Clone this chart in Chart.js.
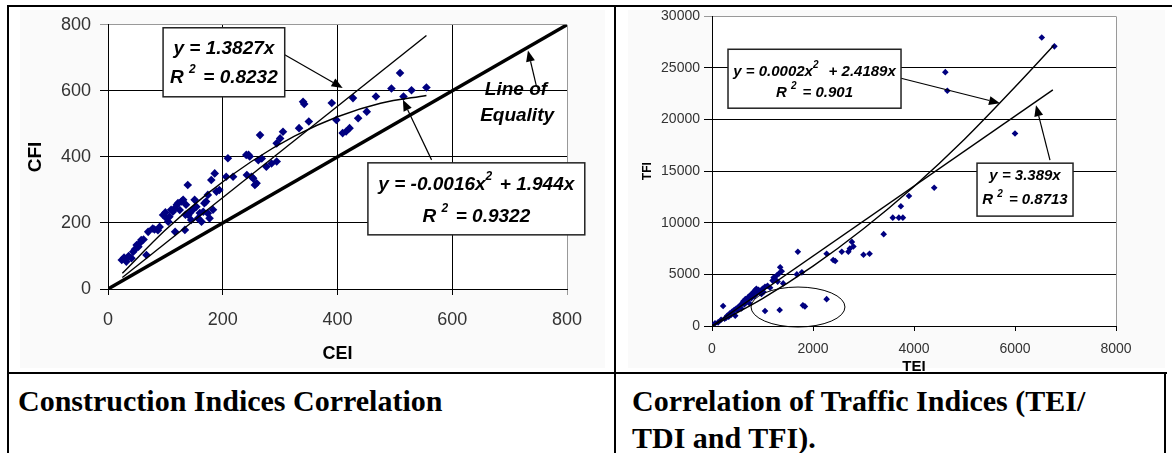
<!DOCTYPE html>
<html><head><meta charset="utf-8">
<script src="https://cdn.jsdelivr.net/npm/chart.js@4.4.0/dist/chart.umd.min.js"></script>
<style>
html,body{margin:0;padding:0;background:#fff;width:1172px;height:453px;overflow:hidden;position:relative;font-family:"Liberation Sans",Arial,sans-serif}
.ln{position:absolute;background:#000}
.cap{position:absolute;font:bold 30px/37px "Liberation Serif","Times New Roman",serif;color:#000;white-space:nowrap}
canvas{position:absolute}
.bg{position:absolute;background:#fafafa}
</style></head><body>
<div class="bg" style="left:20px;top:10px;width:585px;height:358px"></div>
<div class="bg" style="left:628px;top:10px;width:537px;height:358px"></div>
<canvas id="c1" width="600" height="367" style="left:10px;top:5px"></canvas>
<canvas id="c2" width="552" height="376" style="left:618px;top:4px"></canvas>
<div class="ln" style="left:7px;top:5px;width:1165px;height:2px"></div>
<div class="ln" style="left:7px;top:5px;width:2px;height:448px"></div>
<div class="ln" style="left:614px;top:5px;width:2px;height:448px"></div>
<div class="ln" style="left:7px;top:372px;width:1160px;height:2px"></div>
<div class="ln" style="left:1164px;top:372px;width:2px;height:81px"></div>
<div class="cap" style="left:18px;top:382px">Construction Indices Correlation</div>
<div class="cap" style="left:632px;top:382px">Correlation of Traffic Indices (TEI/<br>TDI and TFI).</div>
<script>
// ---------- data: construction indices ----------
const cei = [24,28,32,36,41,44,47,50,53,56,58,62,67,70,78,81,87,90,96,100,102,105,107,110,113,116,117,120,122,125,128,131,134,135,136,139,140,142,145,148,151,154,157,160,163,166,168,171,174,174,177,180,183,186,189,194,206,209,218,241,242,245,247,250,253,256,259,262,265,268,276,285,294,294,300,305,333,340,342,350,390,398,409,415,421,427,436,451,467,494,509,515,529,555];
const cfi = [88,95,83,100,93,113,120,133,128,140,148,150,103,173,183,180,178,188,224,232,214,204,219,240,234,244,173,255,260,239,265,270,179,225,255,315,224,229,209,240,270,249,214,230,204,234,260,265,229,285,214,330,240,350,295,300,340,396,340,406,345,406,401,340,335,315,320,390,466,395,370,380,441,386,456,476,487,567,560,507,563,512,472,477,487,578,517,537,583,607,654,583,602,610];
const linFitX1 = [25,555];
const linFitY1 = [34.6,767.4];
const polyFitX1 = [25,100,175,250,325,400,475,555];
const polyFitY1 = [47.6,178.4,291.2,386,462.8,521.6,562.4,586.1];
const equalityX = [0,800];
const equalityY = [0,800];
const xTicks1 = [0,200,400,600,800];
const yTicks1 = [0,200,400,600,800];

// ---------- data: traffic indices ----------
const tei = [60,120,180,220,250,280,300,330,350,380,400,420,440,460,480,500,520,540,560,580,600,620,640,660,680,700,720,740,760,780,800,820,840,860,880,900,920,950,980,1000,1020,1050,1100,1150,1200,1220,1250,1280,1300,1330,1350,1380,1410,1050,1340,1800,1840,2270,1700,1680,1780,2270,2400,2440,2570,2700,2730,2770,2800,3000,3120,3400,3580,3700,3780,3740,3900,4400,4620,4660,6000,6530,6780];
const tfi = [260,350,600,1940,700,800,1000,900,1200,1100,1400,1230,1550,1000,1700,1550,1800,1900,2000,1700,2200,2400,2100,2600,2300,2500,2800,2200,3000,2700,3100,3300,2900,3500,3600,3200,3500,3400,3100,3600,3300,3800,3900,3700,4400,4700,4500,4900,4300,5100,5700,5300,4130,1450,1550,2000,1900,2600,7200,5000,5200,7000,6400,6300,7200,7200,7500,8150,7700,6900,7000,8900,10500,10500,10500,11600,12600,13400,24600,22800,18650,27950,27100];
const linFitX2 = [0,6750];
const linFitY2 = [0,22876];
const polyFitX2 = [0,1000,2000,3000,4000,5000,6000,6770];
const polyFitY2 = [0,2659,5798,9417,13516,18095,23153,27200];
const xTicks2 = [0,2000,4000,6000,8000];
const yTicks2 = [0,5000,10000,15000,20000,25000,30000];

// ---------- annotation layout (data coordinates) ----------
const annot1 = {
  font: 19,
  arrows: [
    {from:[308,709], to:[409,609]},
    {from:[564,391], to:[514,573]},
    {from:[747,612], to:[732,722]}
  ],
  boxes: [
    {x:[96,308], y:[582,791], lines:[{dy:-13.5, segs:['y = 1.3827x']},{dy:15.5, segs:['R ',['2'],' = 0.8232']}]},
    {x:[453,831], y:[164,382], lines:[{dy:-14, segs:['y = -0.0016x',['2'],' + 1.944x']},{dy:18, segs:['R ',['2'],' = 0.9322']}]}
  ],
  texts: [
    {at:[711,603], segs:['Line of']},
    {at:[713,524], segs:['Equality']}
  ],
  ellipses: []
};
const annot2 = {
  font: 15,
  arrows: [
    {from:[3743,24008], to:[5703,21588]},
    {from:[6693,16070], to:[6416,21394]}
  ],
  boxes: [
    {x:[317,3743], y:[21104,26815], lines:[{dy:-7, segs:['y = 0.0002x',['2'],'  + 2.4189x']},{dy:14, segs:['R ',['2'],' = 0.901']}]},
    {x:[5248,7149], y:[10648,15779], lines:[{dy:-13.5, segs:['y = 3.389x']},{dy:10.5, segs:['R ',['2'],' = 0.8713']}]}
  ],
  texts: [],
  ellipses: [{c:[1703,1840], r:[930,1936]}]
};

Chart.defaults.font.family = '"Liberation Sans", Arial, sans-serif';
const FF = '"Liberation Sans", Arial, sans-serif';

function drawRich(ctx, segs, cx, cy, size){
  const f = s => `italic bold ${s}px ${FF}`;
  let w = 0;
  const parts = segs.map(s => {
    const sup = Array.isArray(s);
    const t = sup ? s[0] : s;
    const sz = sup ? Math.round(size*0.65) : size;
    ctx.font = f(sz);
    const m = ctx.measureText(t).width + (sup ? size*0.12 : 0);
    w += m;
    return {t, sz, m, sup};
  });
  let x = cx - w/2;
  ctx.textBaseline = 'middle'; ctx.textAlign = 'left'; ctx.fillStyle = '#000';
  parts.forEach(p => {
    ctx.font = f(p.sz);
    ctx.fillText(p.t, x, p.sup ? cy - size*0.42 : cy);
    x += p.m;
  });
}
function drawArrow(ctx, x1, y1, x2, y2){
  const a = Math.atan2(y2-y1, x2-x1), L = 11, W = 4.5;
  const bx = x2 - L*Math.cos(a), by = y2 - L*Math.sin(a);
  ctx.strokeStyle = '#000'; ctx.lineWidth = 1.2;
  ctx.beginPath(); ctx.moveTo(x1,y1); ctx.lineTo(bx,by); ctx.stroke();
  ctx.fillStyle = '#000';
  ctx.beginPath(); ctx.moveTo(x2,y2);
  ctx.lineTo(bx + W*Math.sin(a), by - W*Math.cos(a));
  ctx.lineTo(bx - W*Math.sin(a), by + W*Math.cos(a));
  ctx.closePath(); ctx.fill();
}
function makePlugin(cfg, drawRightFrame){
  return {
    id: 'annot',
    beforeDraw(chart){
      const {ctx, chartArea:a} = chart;
      ctx.save(); ctx.fillStyle = '#fff';
      ctx.fillRect(a.left, a.top, a.right-a.left, a.bottom-a.top);
      ctx.restore();
    },
    beforeDatasetsDraw(chart){
      if (!drawRightFrame) return;
      const {ctx, chartArea:a} = chart;
      ctx.save(); ctx.strokeStyle = '#999'; ctx.lineWidth = 1;
      const x = Math.round(a.right) + 0.5;
      ctx.beginPath(); ctx.moveTo(x, a.top); ctx.lineTo(x, a.bottom); ctx.stroke();
      ctx.restore();
    },
    afterDatasetsDraw(chart){
      const {ctx} = chart;
      const xs = chart.scales.x, ys = chart.scales.y;
      const X = v => xs.getPixelForValue(v), Y = v => ys.getPixelForValue(v);
      ctx.save();
      cfg.ellipses.forEach(e => {
        const cx = X(e.c[0]), cy = Y(e.c[1]);
        const rx = Math.abs(X(e.c[0]+e.r[0]) - cx), ry = Math.abs(Y(e.c[1]+e.r[1]) - cy);
        ctx.strokeStyle = '#000'; ctx.lineWidth = 1;
        ctx.beginPath(); ctx.ellipse(cx, cy, rx, ry, 0, 0, Math.PI*2); ctx.stroke();
      });
      cfg.arrows.forEach(a => drawArrow(ctx, X(a.from[0]), Y(a.from[1]), X(a.to[0]), Y(a.to[1])));
      cfg.boxes.forEach(b => {
        const x1 = X(b.x[0]), x2 = X(b.x[1]), y1 = Y(b.y[1]), y2 = Y(b.y[0]);
        ctx.fillStyle = '#fff'; ctx.fillRect(x1, y1, x2-x1, y2-y1);
        ctx.strokeStyle = '#222'; ctx.lineWidth = 1.5; ctx.strokeRect(x1, y1, x2-x1, y2-y1);
        const cx = (x1+x2)/2, cy = (y1+y2)/2;
        b.lines.forEach(l => drawRich(ctx, l.segs, cx, cy + l.dy, cfg.font));
      });
      cfg.texts.forEach(t => drawRich(ctx, t.segs, X(t.at[0]), Y(t.at[1]), cfg.font));
      ctx.restore();
    }
  };
}
const pts = (xs, ys) => xs.map((x,i) => ({x, y: ys[i]}));
const lineDs = (xs, ys, w, smooth) => ({type:'line', data: pts(xs, ys), borderColor:'#000', borderWidth:w, pointRadius:0, showLine:true, fill:false, cubicInterpolationMode: smooth ? 'monotone' : 'default', tension: smooth ? 0.4 : 0});
const gridColor = top => c => (c.tick && c.tick.value === top) ? '#999' : '#000';
const plain = v => String(v);

new Chart(document.getElementById('c1'), {
  type: 'scatter',
  data: { datasets: [
    lineDs(equalityX, equalityY, 3.5, false),
    lineDs(linFitX1, linFitY1, 1.4, false),
    lineDs(polyFitX1, polyFitY1, 1.4, true),
    {type:'scatter', data: pts(cei, cfi), pointStyle:'rectRot', pointRadius:4.3, backgroundColor:'#000080', borderColor:'#000080', borderWidth:0}
  ]},
  options: {
    responsive:false, animation:false, devicePixelRatio:1, events:[],
    layout:{padding:{left:0, right:43, top:0, bottom:0}},
    plugins:{legend:{display:false}, tooltip:{enabled:false}},
    scales:{
      x:{type:'linear', min:0, max:800,
        afterBuildTicks: s => { s.ticks = xTicks1.map(v => ({value:v})); },
        grid:{color: gridColor(800), lineWidth:1, tickLength:6},
        border:{display:true, color:'#000', width:1},
        ticks:{font:{size:18}, color:'#333', padding:14, maxRotation:0, autoSkip:false, callback: plain},
        title:{display:true, text:'CEI', font:{size:18, weight:'bold'}, color:'#000', padding:{top:0, bottom:7}},
        afterFit: s => { s.height = 83; }
      },
      y:{type:'linear', min:0, max:800,
        afterBuildTicks: s => { s.ticks = yTicks1.map(v => ({value:v})); },
        grid:{color: gridColor(800), lineWidth:1, tickLength:8},
        border:{display:true, color:'#000', width:1},
        ticks:{font:{size:18}, color:'#333', padding:9, autoSkip:false, callback: plain},
        title:{display:true, text:'CFI', font:{size:19, weight:'bold'}, color:'#000', padding:{top:14, bottom:0}},
        afterFit: s => { s.width = 98; }
      }
    }
  },
  plugins:[makePlugin(annot1, false)]
});

new Chart(document.getElementById('c2'), {
  type: 'scatter',
  data: { datasets: [
    lineDs(linFitX2, linFitY2, 1.4, false),
    lineDs(polyFitX2, polyFitY2, 1.4, true),
    {type:'scatter', data: pts(tei, tfi), pointStyle:'rectRot', pointRadius:3.3, backgroundColor:'#000080', borderColor:'#000080', borderWidth:0}
  ]},
  options: {
    responsive:false, animation:false, devicePixelRatio:1, events:[],
    layout:{padding:{left:0, right:54, top:0, bottom:0}},
    plugins:{legend:{display:false}, tooltip:{enabled:false}},
    scales:{
      x:{type:'linear', min:0, max:8000,
        afterBuildTicks: s => { s.ticks = xTicks2.map(v => ({value:v})); },
        grid:{color:'#000', lineWidth:1, tickLength:5, drawOnChartArea:false, drawTicks:true},
        border:{display:true, color:'#000', width:1},
        ticks:{font:{size:14}, color:'#333', padding:10, maxRotation:0, autoSkip:false, callback: plain},
        title:{display:true, text:'TEI', font:{size:15, weight:'bold'}, color:'#000', padding:{top:0, bottom:4}},
        afterFit: s => { s.height = 54; }
      },
      y:{type:'linear', min:0, max:30000,
        afterBuildTicks: s => { s.ticks = yTicks2.map(v => ({value:v})); },
        grid:{color: gridColor(30000), lineWidth:1, tickLength:8},
        border:{display:true, color:'#000', width:1},
        ticks:{font:{size:14}, color:'#333', padding:4, autoSkip:false, callback: plain},
        title:{display:true, text:'TFI', font:{size:12, weight:'bold'}, color:'#000', padding:{top:22, bottom:0}},
        afterFit: s => { s.width = 94; }
      }
    }
  },
  plugins:[makePlugin(annot2, true)]
});
</script>
</body></html>
